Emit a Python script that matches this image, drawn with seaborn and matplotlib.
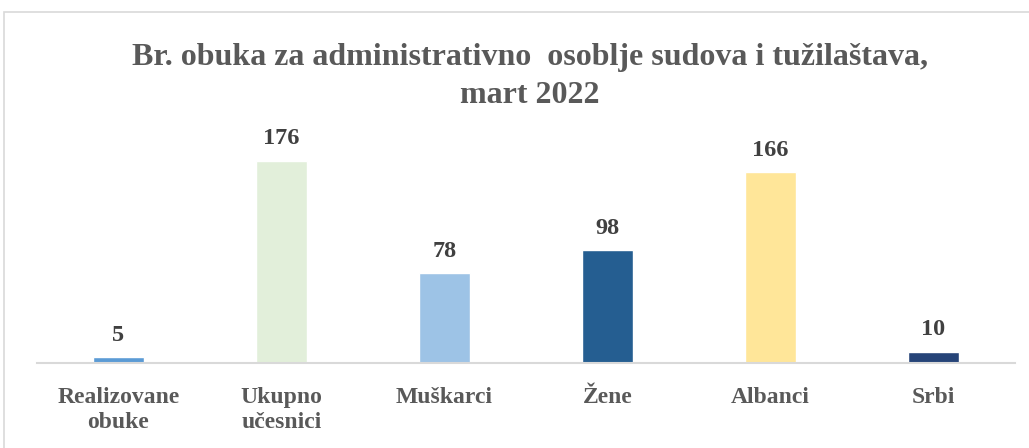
import matplotlib
matplotlib.use("Agg")
import matplotlib.pyplot as plt
import seaborn as sns
import pandas as pd
from matplotlib.patches import Rectangle

# Podaci
kategorije = ["Realizovane\nobuke", "Ukupno\nučesnici", "Muškarci", "Žene", "Albanci", "Srbi"]
vrijednosti = [5, 176, 78, 98, 166, 10]
boje = ["#5B9BD5", "#E2EFDA", "#9DC3E6", "#255E91", "#FFE699", "#264478"]

df = pd.DataFrame({"Kategorija": kategorije, "Broj": vrijednosti})

sns.set_style("white")
plt.rcParams["font.family"] = ["Liberation Serif", "DejaVu Serif"]

fig = plt.figure(figsize=(10.29, 4.48), dpi=100)
ax = fig.add_axes([37 / 1029, 85 / 448, 978 / 1029, 230 / 448])

sns.barplot(data=df, x="Kategorija", y="Broj", hue="Kategorija", palette=boje,
            legend=False, width=0.31, ax=ax, saturation=1)

ax.set_ylim(0, 200)
ax.set_xlim(-0.5, len(kategorije) - 0.5)
ax.set_yticks([])
ax.set_xlabel("")
ax.set_ylabel("")
for s in ["top", "right", "left"]:
    ax.spines[s].set_visible(False)
ax.spines["bottom"].set_color("#D9D9D9")
ax.spines["bottom"].set_linewidth(1.5)
ax.tick_params(axis="x", length=0, pad=17)
for lbl in ax.get_xticklabels():
    lbl.set_fontsize(17)
    lbl.set_fontweight("bold")
    lbl.set_color("#595959")
    lbl.set_linespacing(1.3)

for c in ax.containers:
    ax.bar_label(c, padding=8, fontsize=17.5, fontweight="bold", color="#404040")

fig.text(0.515, 0.829, "Br. obuka za administrativno  osoblje sudova i tužilaštava,\nmart 2022",
         ha="center", va="center", fontsize=23, fontweight="bold", color="#595959",
         linespacing=1.4)

# okvir grafikona
fig.patches.append(Rectangle((4 / 1029, -0.05), 1.1, (448 - 12) / 448 + 0.05,
                             transform=fig.transFigure, fill=False,
                             edgecolor="#D9D9D9", linewidth=1.2))

fig.savefig("out.png", dpi=100)
